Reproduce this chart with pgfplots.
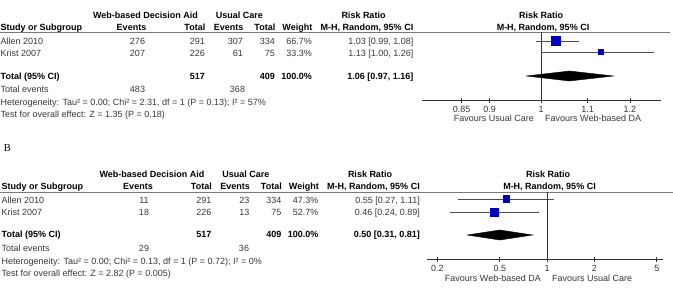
\documentclass[border=0pt]{standalone}
\usepackage{fontspec}
\setmainfont{Liberation Sans}
\newfontfamily\seriffont{Liberation Serif}
\usepackage{pgfplots}
\pgfplotsset{compat=1.18}
\definecolor{sqblue}{RGB}{0,0,190}
\definecolor{txt}{RGB}{55,55,55}
\definecolor{rule}{RGB}{120,120,120}

\begin{document}
\begin{tikzpicture}
\tikzset{tx/.style={font=\fontsize{9bp}{11bp}\selectfont, inner sep=0pt, text=txt},
  bf/.style={font=\fontsize{9bp}{11bp}\selectfont\bfseries, inner sep=0pt, text=black}}
\begin{scope}[x=1bp,y=-1bp]
\useasboundingbox (0,0) rectangle (673,293);
\clip (0,0) rectangle (673,293);

%================ Panel A table =================
\node[bf,anchor=mid] at (145.5,16) {Web-based Decision Aid};
\node[bf,anchor=mid] at (239.5,16) {Usual Care};
\node[bf,anchor=mid] at (363.5,16) {Risk Ratio};
\node[bf,anchor=mid west] at (0.5,28) {Study or Subgroup};
\node[bf,anchor=mid] at (131.5,28) {Events};
\node[bf,anchor=mid east] at (205.5,28) {Total};
\node[bf,anchor=mid east] at (243.5,28) {Events};
\node[bf,anchor=mid east] at (275.5,28) {Total};
\node[bf,anchor=mid east] at (312.5,28) {Weight};
\node[bf,anchor=mid] at (367,28) {M-H, Random, 95\% CI};
\draw[rule, line width=0.8bp] (-10,32) -- (670,32);

\node[tx,anchor=mid west] at (0.5,42) {Allen 2010};
\node[tx,anchor=mid] at (137.5,42) {276};
\node[tx,anchor=mid east] at (205,42) {291};
\node[tx,anchor=mid east] at (243,42) {307};
\node[tx,anchor=mid east] at (275,42) {334};
\node[tx,anchor=mid east] at (312,42) {66.7\%};
\node[tx,anchor=mid east] at (413.5,42) {1.03 [0.99, 1.08]};

\node[tx,anchor=mid west] at (0.5,54) {Krist 2007};
\node[tx,anchor=mid] at (137.5,54) {207};
\node[tx,anchor=mid east] at (205,54) {226};
\node[tx,anchor=mid east] at (243,54) {61};
\node[tx,anchor=mid east] at (275,54) {75};
\node[tx,anchor=mid east] at (312,54) {33.3\%};
\node[tx,anchor=mid east] at (413.5,54) {1.13 [1.00, 1.26]};

\node[bf,anchor=mid west] at (0.5,77) {Total (95\% CI)};
\node[bf,anchor=mid east] at (205,77) {517};
\node[bf,anchor=mid east] at (275,77) {409};
\node[bf,anchor=mid east] at (312,77) {100.0\%};
\node[bf,anchor=mid east] at (413.5,77) {1.06 [0.97, 1.16]};

\node[tx,anchor=mid west] at (0.5,90) {Total events};
\node[tx,anchor=mid] at (137.5,90) {483};
\node[tx,anchor=mid] at (237.5,90) {368};
\node[tx,anchor=mid west] at (0.5,103) {Heterogeneity: Tau² = 0.00; Chi² = 2.31, df = 1 (P = 0.13); I² = 57\%};
\node[tx,anchor=mid west] at (0.5,115) {Test for overall effect: Z = 1.35 (P = 0.18)};

\node[bf,anchor=mid] at (541,16) {Risk Ratio};
\node[bf,anchor=mid] at (543,28) {M-H, Random, 95\% CI};
\node[tx,anchor=mid east] at (534,119) {Favours Usual Care};
\node[tx,anchor=mid west] at (545,119) {Favours Web-based DA};

%================ Panel B =================
\node[font=\fontsize{10.5bp}{12bp}\seriffont, inner sep=0pt, anchor=mid] at (7.5,149) {B};

\begin{scope}[shift={(6.5,159)}]
\node[bf,anchor=mid] at (145.5,16) {Web-based Decision Aid};
\node[bf,anchor=mid] at (239.5,16) {Usual Care};
\node[bf,anchor=mid] at (363.5,16) {Risk Ratio};
\node[bf,anchor=mid west] at (-5,28) {Study or Subgroup};
\node[bf,anchor=mid] at (131.5,28) {Events};
\node[bf,anchor=mid east] at (205.5,28) {Total};
\node[bf,anchor=mid east] at (243.5,28) {Events};
\node[bf,anchor=mid east] at (275.5,28) {Total};
\node[bf,anchor=mid east] at (312.5,28) {Weight};
\node[bf,anchor=mid] at (367,28) {M-H, Random, 95\% CI};
\draw[rule, line width=0.8bp] (-20,33) -- (680,33);

\node[tx,anchor=mid west] at (-5,42) {Allen 2010};
\node[tx,anchor=mid] at (137.5,42) {11};
\node[tx,anchor=mid east] at (205,42) {291};
\node[tx,anchor=mid east] at (243,42) {23};
\node[tx,anchor=mid east] at (275,42) {334};
\node[tx,anchor=mid east] at (312,42) {47.3\%};
\node[tx,anchor=mid east] at (413.5,42) {0.55 [0.27, 1.11]};

\node[tx,anchor=mid west] at (-5,54) {Krist 2007};
\node[tx,anchor=mid] at (137.5,54) {18};
\node[tx,anchor=mid east] at (205,54) {226};
\node[tx,anchor=mid east] at (243,54) {13};
\node[tx,anchor=mid east] at (275,54) {75};
\node[tx,anchor=mid east] at (312,54) {52.7\%};
\node[tx,anchor=mid east] at (413.5,54) {0.46 [0.24, 0.89]};

\node[bf,anchor=mid west] at (-5,76) {Total (95\% CI)};
\node[bf,anchor=mid east] at (205,76) {517};
\node[bf,anchor=mid east] at (275,76) {409};
\node[bf,anchor=mid east] at (312,76) {100.0\%};
\node[bf,anchor=mid east] at (413.5,76) {0.50 [0.31, 0.81]};

\node[tx,anchor=mid west] at (-5,90) {Total events};
\node[tx,anchor=mid] at (137.5,90) {29};
\node[tx,anchor=mid] at (237.5,90) {36};
\node[tx,anchor=mid west] at (-5,103) {Heterogeneity: Tau² = 0.00; Chi² = 0.13, df = 1 (P = 0.72); I² = 0\%};
\node[tx,anchor=mid west] at (-5,115) {Test for overall effect: Z = 2.82 (P = 0.005)};
\end{scope}

\node[bf,anchor=mid] at (548,175) {Risk Ratio};
\node[bf,anchor=mid] at (549.5,187) {M-H, Random, 95\% CI};
\node[tx,anchor=mid east] at (541,279) {Favours Web-based DA};
\node[tx,anchor=mid west] at (552,279) {Favours Usual Care};
\end{scope}

%================ Panel A plot =================
\begin{axis}[at={(422bp,-100bp)}, anchor=south west,
  scale only axis, width=239bp, height=68bp,
  xmode=log, xmin=0.7836, xmax=1.2788, ymin=-100, ymax=-32,
  axis x line=bottom, axis y line=none,
  x axis line style={-, line width=0.6bp, black!80},
  tick align=center, major tick length=5bp, tick style={line width=0.6bp, black!80},
  xtick={0.85,0.9,1,1.1,1.2}, xticklabels={0.85,0.9,1,1.1,1.2},
  xticklabel style={font=\fontsize{9bp}{11bp}\selectfont, text=txt, inner sep=0pt, anchor=north, yshift=-4bp},
  clip=false]
\addplot[black!80, line width=0.6bp] coordinates {(1,-32) (1,-100)};
\addplot[black!70, line width=0.6bp] coordinates {(0.99,-41) (1.08,-41)};
\addplot[black!70, line width=0.6bp] coordinates {(1.00,-52) (1.26,-52)};
\addplot[only marks, mark=square*, mark size=4.6bp, mark options={fill=sqblue, draw=sqblue}] coordinates {(1.03,-41)};
\addplot[only marks, mark=square*, mark size=2.5bp, mark options={fill=sqblue, draw=sqblue}] coordinates {(1.13,-52)};
\addplot[fill=black, draw=black] coordinates {(0.97,-76) (1.06,-71) (1.16,-76) (1.06,-81) (0.97,-76)};
\end{axis}

%================ Panel B plot =================
\begin{axis}[at={(427bp,-259bp)}, anchor=south west,
  scale only axis, width=236bp, height=67bp,
  xmode=log, xmin=0.172, xmax=5.48, ymin=-259, ymax=-192,
  axis x line=bottom, axis y line=none,
  x axis line style={-, line width=0.6bp, black!80},
  tick align=center, major tick length=5bp, tick style={line width=0.6bp, black!80},
  xtick={0.2,0.5,1,2,5}, xticklabels={0.2,0.5,1,2,5},
  xticklabel style={font=\fontsize{9bp}{11bp}\selectfont, text=txt, inner sep=0pt, anchor=north, yshift=-4bp},
  clip=false]
\addplot[black!80, line width=0.6bp] coordinates {(1,-192) (1,-259)};
\addplot[black!70, line width=0.6bp] coordinates {(0.27,-199) (1.11,-199)};
\addplot[black!70, line width=0.6bp] coordinates {(0.24,-212) (0.89,-212)};
\addplot[only marks, mark=square*, mark size=3.4bp, mark options={fill=sqblue, draw=sqblue}] coordinates {(0.55,-199)};
\addplot[only marks, mark=square*, mark size=3.8bp, mark options={fill=sqblue, draw=sqblue}] coordinates {(0.46,-212)};
\addplot[fill=black, draw=black] coordinates {(0.31,-235) (0.50,-230) (0.81,-235) (0.50,-240) (0.31,-235)};
\end{axis}
\end{tikzpicture}
\end{document}
